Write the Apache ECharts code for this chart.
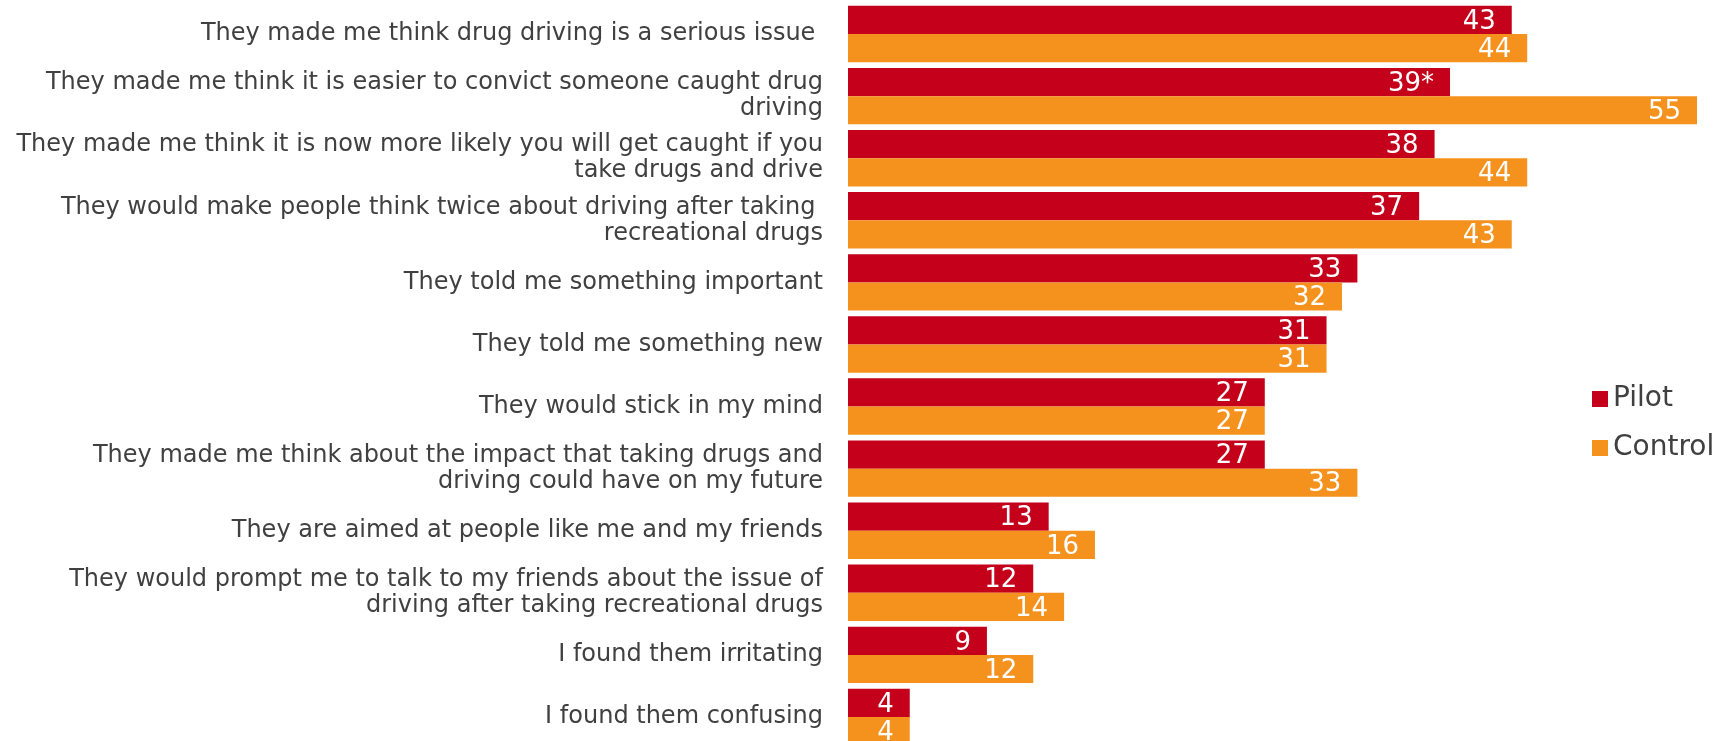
<!DOCTYPE html>
<html>
<head>
<meta charset="utf-8">
<script src="https://cdn.jsdelivr.net/npm/echarts@6/dist/echarts.min.js"></script>
<style>
  html, body { margin: 0; padding: 0; background: #ffffff; }
  #chart { width: 1731px; height: 741px; }
</style>
</head>
<body>
<div id="chart"></div>
<script>
// Statements about the adverts, top to bottom
const categories = [
  'They made me think drug driving is a serious issue ',
  'They made me think it is easier to convict someone caught drug\ndriving',
  'They made me think it is now more likely you will get caught if you\ntake drugs and drive',
  'They would make people think twice about driving after taking \nrecreational drugs',
  'They told me something important',
  'They told me something new',
  'They would stick in my mind',
  'They made me think about the impact that taking drugs and\ndriving could have on my future',
  'They are aimed at people like me and my friends',
  'They would prompt me to talk to my friends about the issue of\ndriving after taking recreational drugs',
  'I found them irritating',
  'I found them confusing'
];

// Percentages agreeing
const pilot   = [43, 39, 38, 37, 33, 31, 27, 27, 13, 12, 9, 4];
const control = [44, 55, 44, 43, 32, 31, 27, 33, 16, 14, 12, 4];

// Significance markers appended to Pilot value labels
const pilotMarks = ['', '*', '', '', '', '', '', '', '', '', '', ''];

const seriesNames = ['Pilot', 'Control'];
const colors = ['#C5001A', '#F5921E'];

const chart = echarts.init(document.getElementById('chart'), null, { renderer: 'canvas' });

const valueLabel = {
  show: true,
  position: 'insideRight',
  distance: 16,
  offset: [0, 2],
  color: '#ffffff',
  fontFamily: 'DejaVu Sans',
  fontSize: 26
};

chart.setOption({
  animation: false,
  backgroundColor: '#ffffff',
  color: colors,
  grid: {
    left: 848, top: 3, width: 849, height: 745,
    containLabel: false,
    outerBoundsMode: 'none'
  },
  legend: {
    orient: 'vertical',
    left: 1587,
    top: 380,
    itemWidth: 16,
    itemHeight: 16,
    itemGap: 21,
    icon: 'rect',
    data: seriesNames,
    textStyle: { fontFamily: 'DejaVu Sans', fontSize: 28, color: '#404040' }
  },
  xAxis: {
    type: 'value',
    min: 0,
    max: 55,
    show: false
  },
  yAxis: {
    type: 'category',
    inverse: true,
    data: categories,
    axisLine: { show: false },
    axisTick: { show: false },
    axisLabel: {
      margin: 25,
      fontFamily: 'DejaVu Sans',
      fontSize: 24,
      lineHeight: 26,
      padding: [4, 0, 0, 0],
      color: '#404040',
      align: 'right'
    }
  },
  series: [
    {
      name: seriesNames[0],
      type: 'bar',
      data: pilot,
      barGap: '0%',
      barCategoryGap: '9%',
      label: Object.assign({}, valueLabel, {
        formatter: p => p.value + pilotMarks[p.dataIndex]
      })
    },
    {
      name: seriesNames[1],
      type: 'bar',
      data: control,
      barGap: '0%',
      barCategoryGap: '9%',
      label: Object.assign({}, valueLabel, { formatter: p => String(p.value) })
    }
  ]
});
</script>
</body>
</html>
